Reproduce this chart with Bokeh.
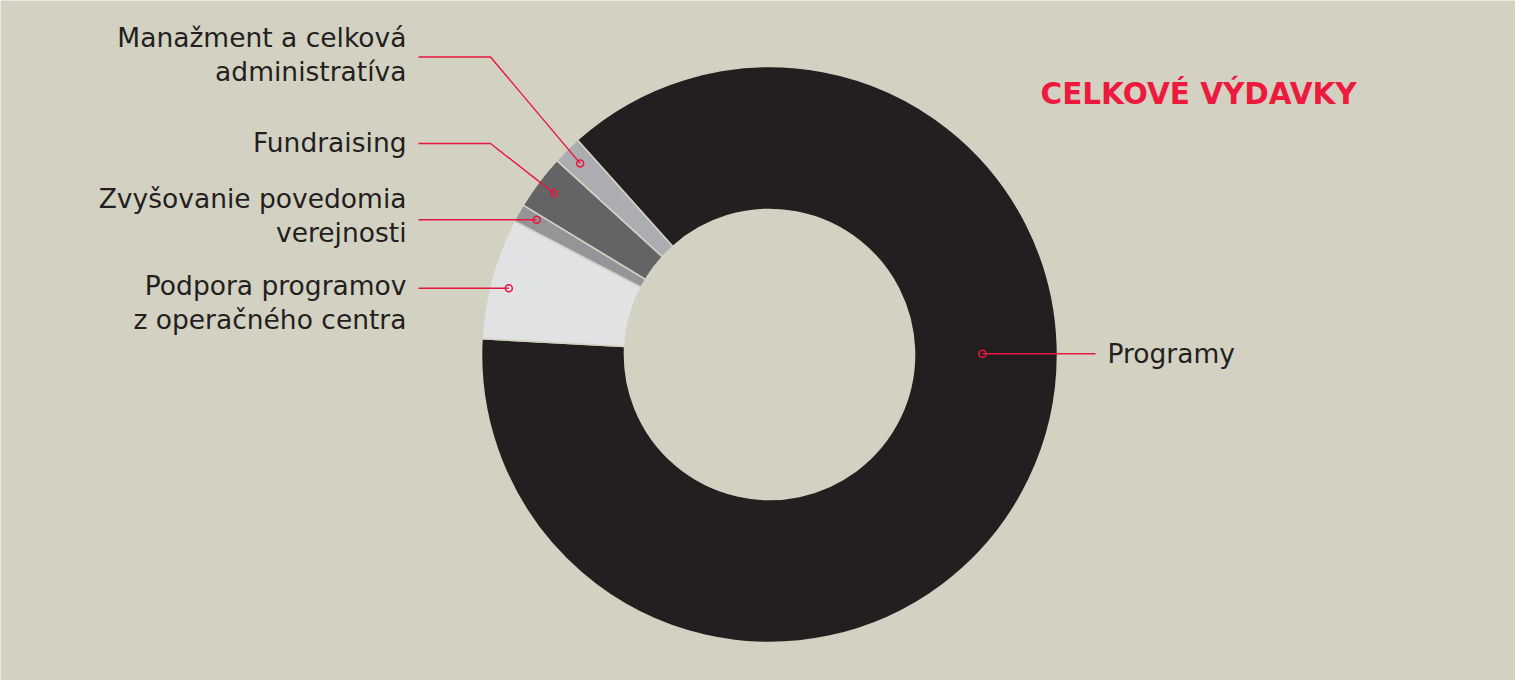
import math
from bokeh.plotting import figure
from bokeh.models import ColumnDataSource, Range1d
from bokeh.embed import file_html
from bokeh.resources import INLINE
from bokeh.core.properties import value

# ---------------- data ----------------
categories = ["Programy",
              "Podpora programov z operačného centra",
              "Zvyšovanie povedomia verejnosti",
              "Fundraising",
              "Manažment a celková administratíva"]
shares = [87.5, 6.8, 1.0, 3.1, 1.6]          # percent of total expenses
label_lines = [["Programy"],
               ["Podpora programov", "z operačného centra"],
               ["Zvyšovanie povedomia", "verejnosti"],
               ["Fundraising"],
               ["Manažment a celková", "administratíva"]]
title_text = "CELKOVÉ VÝDAVKY"

# ---------------- style / layout ----------------
slice_colors = ["#231f20", "#e1e2e3", "#939598", "#636466", "#acadb0"]
BG = "#d3d1c2"
RED = "#e8173f"
TITLE_RED = "#ed1a3d"
TXT = "#231f20"
FONT = "DejaVu Sans"

W, H = 1515, 680
PAGE_H = 680
CX, CY_PX = 769, 354
R_OUT, R_IN = 288, 145
START_DEG = -41.85          # clockwise from 12 o'clock
MARK_R = 269
TEXT_SHIFT = -9.5           # compensation for renderer baseline placement

def py(y_px):
    return PAGE_H - y_px

CY = py(CY_PX)

# label layout: side, leader y (px), first baseline (px), elbow x, anchor mode
label_layout = [
    dict(side="right", leader_y=353.3, base=362.7, anchor="horizontal", anchor_r=213),
    dict(side="left", leader_y=287.7, base=294.0, elbow=None, anchor="horizontal"),
    dict(side="left", leader_y=219.3, base=207.3, elbow=None, anchor="horizontal"),
    dict(side="left", leader_y=143.0, base=151.7, elbow=490, anchor="mid"),
    dict(side="left", leader_y=56.5, base=46.0, elbow=490, anchor="mid"),
]
LINE_H = 34.4
LEFT_TEXT_X = 406
LEFT_LINE_X = 418
RIGHT_TEXT_X = 1107
RIGHT_LINE_X = 1095

# ---------------- geometry from data ----------------
total = sum(shares)
starts, ends, mids = [], [], []
acc = START_DEG
for s in shares:
    span = 360.0 * s / total
    starts.append(acc)
    ends.append(acc + span)
    mids.append(acc + span / 2)
    acc += span

def to_bokeh(theta_deg):
    return math.radians(90.0 - theta_deg)

src = ColumnDataSource(dict(
    x=[CX] * len(shares), y=[CY] * len(shares),
    start=[to_bokeh(a) for a in starts],
    end=[to_bokeh(a) for a in ends],
    color=slice_colors, name=categories, share=shares,
))

p = figure(width=W, height=H, output_backend="svg", toolbar_location=None,
           x_range=Range1d(0, W), y_range=Range1d(PAGE_H - H, PAGE_H),
           min_border=0, outline_line_color=None,
           background_fill_color=BG, border_fill_color=BG)
p.axis.visible = False
p.grid.visible = False

p.annular_wedge(x="x", y="y", inner_radius=R_IN, outer_radius=R_OUT,
                start_angle="start", end_angle="end", direction="clock",
                fill_color="color", line_color=BG, line_width=1.6, source=src)

# leaders, markers, labels
lx, ly, mxs, mys = [], [], [], []
tx, ty, tt, ta = [], [], [], []
for i, lay in enumerate(label_layout):
    yl = py(lay["leader_y"])
    if lay["anchor"] == "horizontal":
        r = lay.get("anchor_r", MARK_R)
        dy = yl - CY
        dx = math.sqrt(max(r * r - dy * dy, 0.0))
        mx = CX + dx if lay["side"] == "right" else CX - dx
        my = yl
    else:
        ang = mids[i]
        mx = CX + MARK_R * math.sin(math.radians(ang))
        my = CY + MARK_R * math.cos(math.radians(ang))
    mxs.append(mx); mys.append(my)
    if lay["side"] == "right":
        lx.append([mx, RIGHT_LINE_X]); ly.append([my, yl])
        for k, t in enumerate(label_lines[i]):
            tx.append(RIGHT_TEXT_X); ty.append(py(lay["base"] + k * LINE_H + TEXT_SHIFT)); tt.append(t); ta.append("left")
    else:
        if lay.get("elbow"):
            lx.append([LEFT_LINE_X, lay["elbow"], mx]); ly.append([yl, yl, my])
        else:
            lx.append([LEFT_LINE_X, mx]); ly.append([yl, my])
        for k, t in enumerate(label_lines[i]):
            tx.append(LEFT_TEXT_X); ty.append(py(lay["base"] + k * LINE_H + TEXT_SHIFT)); tt.append(t); ta.append("right")

p.multi_line(xs=lx, ys=ly, line_color=RED, line_width=1.4)
p.scatter(x=mxs, y=mys, marker="circle", size=7, fill_color=None,
          line_color=RED, line_width=1.5)

p.text(x=tx, y=ty, text=tt, text_align=ta, text_baseline="alphabetic",
       text_font=value(FONT), text_font_size="26.5px", text_color=TXT)

p.text(x=[1040], y=[py(102.7 + TEXT_SHIFT)], text=[title_text], text_align="left",
       text_baseline="alphabetic", text_font=value(FONT), text_font_size="29.5px",
       text_font_style="bold", text_color=TITLE_RED)

open("out.html", "w").write(file_html(p, INLINE))
